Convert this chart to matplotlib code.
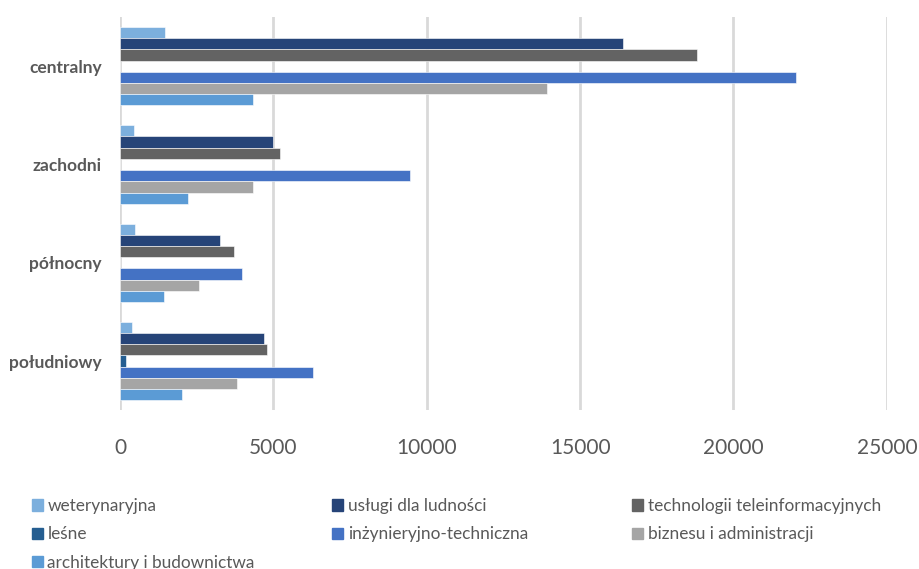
import matplotlib
matplotlib.use("Agg")
from matplotlib import pyplot as plt
from matplotlib.patches import Patch
import numpy as np

plt.rcParams['font.family'] = ['Lato', 'DejaVu Sans']

# categories listed bottom to top
regions = ["południowy", "północny", "zachodni", "centralny"]

weterynaryjna = [400, 490, 450, 1470]
uslugi = [4710, 3260, 4990, 16400]
technologii = [4800, 3700, 5200, 18800]
lesne = [190, 0, 0, 0]
inzynieryjno = [6300, 3980, 9450, 22030]
biznesu = [3820, 2580, 4320, 13910]
architektury = [2010, 1450, 2230, 4330]

names = ["weterynaryjna", "usługi dla ludności", "technologii teleinformacyjnych",
         "leśne", "inżynieryjno-techniczna", "biznesu i administracji",
         "architektury i budownictwa"]
colors = ["#7cafdd", "#264478", "#636363", "#255e91", "#4472c4", "#a5a5a5", "#5b9bd5"]
series = [weterynaryjna, uslugi, technologii, lesne, inzynieryjno, biznesu, architektury]

fig = plt.figure(figsize=(9.19, 5.69), dpi=100)
ax = fig.add_axes([0.1306, 0.279, 0.8344, 0.691])

y = np.arange(len(regions))
h = 0.114
for i in range(len(series)):
    # first series on top of each group
    off = (3 - i) * h
    ax.barh(y + off, series[i], height=h, color=colors[i], edgecolor="white", linewidth=0.4)

ax.set_xlim(0, 25000)
ax.set_ylim(-0.5, 3.5)
ax.set_xticks([0, 5000, 10000, 15000, 20000, 25000])
ax.set_yticks(y)
ax.set_yticklabels(regions, fontsize=12.5, fontweight="bold", color="#595959")
ax.tick_params(axis="x", labelsize=15, colors="#595959", length=0, pad=20)
ax.tick_params(axis="y", length=0, pad=13)
ax.grid(axis="x", color="#d9d9d9", linewidth=2)
ax.set_axisbelow(True)
for s in ax.spines.values():
    s.set_visible(False)

# legend: three equal columns, filled row by row
cols = [[0, 3, 6], [1, 4], [2, 5]]
col_x = [0.035, 0.3615, 0.688]
for c in range(3):
    handles = [Patch(color=colors[k]) for k in cols[c]]
    labels = [names[k] for k in cols[c]]
    fig.legend(handles, labels, loc="upper left", bbox_to_anchor=(col_x[c], 0.125),
               frameon=False, fontsize=12.4, labelcolor="#595959", handlelength=0.64,
               handleheight=0.64, handletextpad=0.25, labelspacing=0.72,
               borderaxespad=0, borderpad=0)

fig.savefig("out.png", dpi=100)
